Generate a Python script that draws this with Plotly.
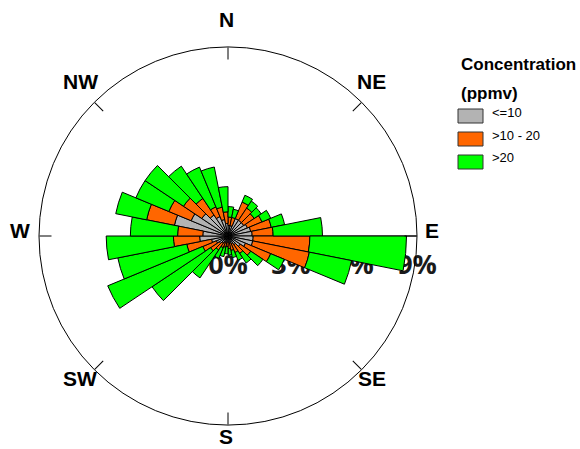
import math
import plotly.graph_objects as go

# 32 direction sectors (compass degrees, sector centres), width 11.25 deg
directions = [5.625, 16.875, 28.125, 39.375, 50.625, 61.875, 73.125, 84.375,
              95.625, 106.875, 118.125, 129.375, 140.625, 151.875, 163.125, 174.375,
              185.625, 196.875, 208.125, 219.375, 230.625, 241.875, 253.125, 264.375,
              275.625, 286.875, 298.125, 309.375, 320.625, 331.875, 343.125, 354.375]
sector_width = 11.25

# frequency (%) per concentration class
conc_le10 = [0.5, 0.5, 0.9, 0.9, 0.9, 1.0, 1.1, 1.15,
             1.2, 1.2, 0.9, 0.7, 0.5, 0.4, 0.35, 0.3,
             0.3, 0.3, 0.35, 0.4, 0.5, 0.6, 0.8, 1.35,
             1.2, 2.6, 1.9, 1.5, 1.2, 1.0, 0.8, 0.6]
conc_10_20 = [0.4, 0.4, 0.85, 0.7, 0.6, 0.75, 1.0, 1.0,
              2.7, 2.75, 1.3, 0.6, 0.5, 0.45, 0.35, 0.3,
              0.2, 0.25, 0.25, 0.4, 0.5, 0.7, 1.2, 1.25,
              1.2, 1.35, 1.15, 1.05, 0.95, 0.5, 0.6, 0.55]
conc_gt20 = [0.5, 0.4, 0.35, 0.4, 0.4, 0.45, 0.65, 2.35,
             4.6, 2.05, 0.7, 0.7, 0.55, 0.4, 0.35, 0.3,
             0.35, 0.45, 0.55, 1.6, 3.35, 4.9, 3.35, 3.2,
             2.25, 1.5, 1.7, 2.2, 1.85, 2.05, 1.95, 1.2]

series_names = ["<=10", ">10 - 20", ">20"]
series_colors = ["#B3B3B3", "#FF6600", "#00FF00"]
legend_title = ["Concentration", "(ppmv)"]

radial_ticks = [0, 3, 6, 9]
radial_labels = ["0%", "3%", "6%", "9%"]
compass_angles = [0, 45, 90, 135, 180, 225, 270, 315]
compass_labels = ["N", "NE", "E", "SE", "S", "SW", "W", "NW"]

W, H = 580, 449
cx, cy_top, R = 228, 236, 189
cy = H - cy_top


def px(x):
    return x / W


def py(y_top):
    return (H - y_top) / H


fig = go.Figure()
for vals, name, col in zip([conc_le10, conc_10_20, conc_gt20], series_names, series_colors):
    fig.add_trace(go.Barpolar(
        r=vals, theta=directions, width=[sector_width] * len(directions),
        name=name, showlegend=False,
        marker=dict(color=col, line=dict(color="black", width=1)),
    ))

annotations = []
shapes = []
for ang, lab in zip(compass_angles, compass_labels):
    a = math.radians(ang)
    ly = min(cy_top - 6 - 210 * math.cos(a), 436)
    annotations.append(dict(
        x=px(cx - 2 + 206 * math.sin(a)), y=py(ly),
        xref="paper", yref="paper", text=lab, showarrow=False,
        xanchor="center", yanchor="middle",
        font=dict(family="Liberation Sans", size=21, color="black", weight="bold"),
    ))

# legend (title + swatches + labels)
for i, t in enumerate(legend_title):
    annotations.append(dict(
        x=px(459), y=py(64 + 29 * i), xref="paper", yref="paper",
        text=t, showarrow=False, xanchor="left", yanchor="middle",
        font=dict(family="Liberation Sans", size=17, color="black", weight="bold"),
    ))
for i, (name, col) in enumerate(zip(series_names, series_colors)):
    yc = 116 + 23 * i
    shapes.append(dict(
        type="rect", xref="paper", yref="paper",
        x0=px(458), x1=px(483), y0=py(yc + 7), y1=py(yc - 7),
        fillcolor=col, line=dict(color="#333333", width=1),
    ))
    annotations.append(dict(
        x=px(490), y=py(yc - 4), xref="paper", yref="paper",
        text=name.replace("<", "&lt;"), showarrow=False, xanchor="left", yanchor="middle",
        font=dict(family="Liberation Sans", size=13, color="black"),
    ))

fig.update_layout(
    width=W, height=H,
    margin=dict(l=0, r=0, t=0, b=0),
    paper_bgcolor="white", plot_bgcolor="white",
    showlegend=False,
    polar=dict(
        domain=dict(x=[(cx - R) / W, (cx + R) / W], y=[(cy - R) / H, (cy + R) / H]),
        bgcolor="white",
        bargap=0,
        barmode="stack",
        angularaxis=dict(
            direction="clockwise", rotation=90,
            tickmode="array", tickvals=compass_angles, ticktext=compass_labels,
            showticklabels=False,
            ticks="inside", ticklen=12, tickwidth=1, tickcolor="black",
            showline=True, linecolor="black", linewidth=1,
            showgrid=False,
        ),
        radialaxis=dict(
            range=[0, 9], angle=0, side="clockwise",
            tickmode="array", tickvals=radial_ticks, ticktext=radial_labels,
            tickangle=0,
            ticks="outside", ticklen=5, tickcolor="rgba(0,0,0,0)",
            tickfont=dict(family="Open Sans", size=27, color="#1a1a1a", weight="bold"),
            showline=True, linecolor="black", linewidth=1,
            showgrid=False, layer="below traces",
        ),
    ),
    annotations=annotations,
    shapes=shapes,
)

fig.write_html("out.html", config={"displayModeBar": False},
               post_script="document.body.style.margin='0px';")
